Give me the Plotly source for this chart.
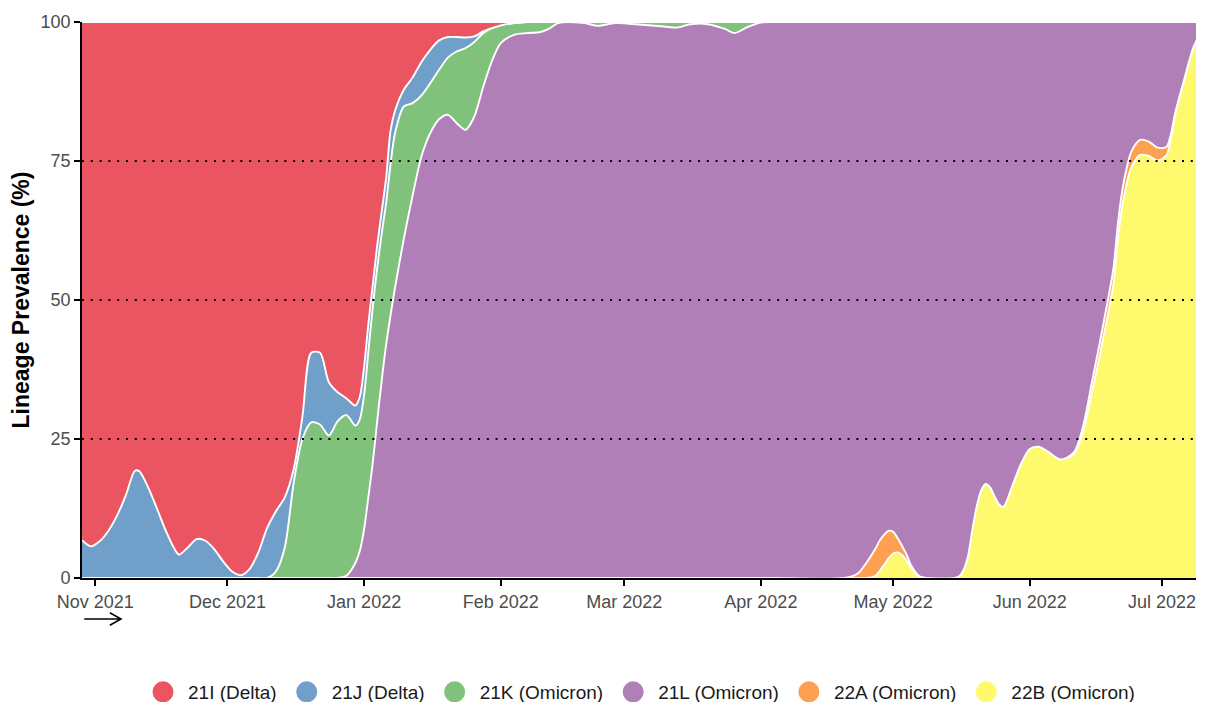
import plotly.graph_objects as go

dates = [
    "2021-10-29", "2021-10-31", "2021-11-02", "2021-11-04", "2021-11-06", "2021-11-08", "2021-11-10", "2021-11-11",
    "2021-11-13", "2021-11-15", "2021-11-17", "2021-11-19", "2021-11-20", "2021-11-22", "2021-11-24", "2021-11-26",
    "2021-11-28", "2021-11-30", "2021-12-02", "2021-12-04", "2021-12-06", "2021-12-08", "2021-12-10", "2021-12-12",
    "2021-12-14", "2021-12-16", "2021-12-18", "2021-12-20", "2021-12-22", "2021-12-24", "2021-12-26", "2021-12-28",
    "2021-12-30", "2021-12-31", "2022-01-01", "2022-01-02", "2022-01-03", "2022-01-04", "2022-01-05", "2022-01-06",
    "2022-01-07", "2022-01-08", "2022-01-10", "2022-01-12", "2022-01-14", "2022-01-16", "2022-01-18", "2022-01-20",
    "2022-01-22", "2022-01-24", "2022-01-26", "2022-01-28", "2022-01-30", "2022-02-01", "2022-02-04", "2022-02-07",
    "2022-02-10", "2022-02-12", "2022-02-14", "2022-02-20", "2022-02-23", "2022-02-27", "2022-03-05", "2022-03-10",
    "2022-03-13", "2022-03-16", "2022-03-20", "2022-03-24", "2022-03-26", "2022-03-29", "2022-04-01", "2022-04-04",
    "2022-04-20", "2022-04-23", "2022-04-25", "2022-04-27", "2022-04-28", "2022-04-29", "2022-04-30", "2022-05-01",
    "2022-05-02", "2022-05-03", "2022-05-04", "2022-05-05", "2022-05-07", "2022-05-09", "2022-05-15", "2022-05-16",
    "2022-05-17", "2022-05-18", "2022-05-19", "2022-05-20", "2022-05-21", "2022-05-22", "2022-05-23", "2022-05-24",
    "2022-05-25", "2022-05-26", "2022-05-28", "2022-05-30", "2022-06-01", "2022-06-03", "2022-06-05", "2022-06-08",
    "2022-06-11", "2022-06-13", "2022-06-15", "2022-06-17", "2022-06-18", "2022-06-19", "2022-06-20", "2022-06-21",
    "2022-06-22", "2022-06-23", "2022-06-24", "2022-06-26", "2022-06-28", "2022-06-30", "2022-07-02", "2022-07-03",
    "2022-07-04", "2022-07-06", "2022-07-08", "2022-07-09",
]

# Lineage prevalence (%) per date
l21I = [
    93.2, 94.3, 93.4, 91.5, 88.7, 85.0, 80.7, 80.8,
    83.7, 87.5, 91.5, 94.8, 95.8, 94.5, 93.0, 93.3,
    94.8, 97.0, 98.8, 99.5, 98.4, 95.4, 91.0, 88.0,
    85.5, 80.5, 71.0, 59.5, 59.5, 64.8, 66.6, 67.7,
    69.0, 67.5, 62.0, 54.0, 47.0, 40.0, 34.0, 28.0,
    19.5, 16.0, 12.2, 10.0, 7.2, 5.0, 3.3, 2.7,
    2.7, 2.8, 2.6, 1.7, 1.1, 0.6, 0.2, 0,
    0, 0, 0, 0, 0, 0, 0, 0,
    0, 0, 0, 0, 0, 0, 0, 0,
    0, 0, 0, 0, 0, 0, 0, 0,
    0, 0, 0, 0, 0, 0, 0, 0,
    0, 0, 0, 0, 0, 0, 0, 0,
    0, 0, 0, 0, 0, 0, 0, 0,
    0, 0, 0, 0, 0, 0, 0, 0,
    0, 0, 0, 0, 0, 0, 0, 0,
    0, 0, 0, 0,
]
l21J = [
    6.8, 5.7, 6.6, 8.5, 11.3, 15.0, 19.3, 19.2,
    16.3, 12.5, 8.5, 5.2, 4.2, 5.5, 7.0, 6.7,
    5.2, 3.0, 1.2, 0.5, 1.6, 4.6, 9.0, 10.8,
    9.0, 2.5, 4.0, 12.5, 12.9, 9.6, 5.2, 3.0,
    3.6, 4.0, 5.0, 5.0, 4.0, 4.0, 4.0, 4.5,
    6.0, 4.0, 3.0, 4.6, 6.0, 6.0, 5.3, 3.7,
    2.6, 1.9, 1.0, 0.3, 0, 0, 0, 0,
    0, 0, 0, 0, 0, 0, 0, 0,
    0, 0, 0, 0, 0, 0, 0, 0,
    0, 0, 0, 0, 0, 0, 0, 0,
    0, 0, 0, 0, 0, 0, 0, 0,
    0, 0, 0, 0, 0, 0, 0, 0,
    0, 0, 0, 0, 0, 0, 0, 0,
    0, 0, 0, 0, 0, 0, 0, 0,
    0, 0, 0, 0, 0, 0, 0, 0,
    0, 0, 0, 0,
]
l21K = [
    0, 0, 0, 0, 0, 0, 0, 0,
    0, 0, 0, 0, 0, 0, 0, 0,
    0, 0, 0, 0, 0, 0, 0, 1.2,
    5.5, 17.0, 25.0, 28.0, 27.6, 25.6, 28.2, 28.9,
    24.7, 23.7, 24.2, 26.2, 28.0, 27.5, 26.4, 25.5,
    27.2, 27.8, 23.8, 16.6, 11.0, 9.0, 8.9, 10.3,
    12.9, 14.7, 13.4, 9.7, 5.9, 3.2, 2.1, 2.0,
    1.8, 1.2, 0.2, 0.2, 0.7, 0.2, 0.5, 0.8,
    1.0, 0.4, 0.4, 1.3, 2.0, 0.9, 0.1, 0,
    0, 0, 0, 0, 0, 0, 0, 0,
    0, 0, 0, 0, 0, 0, 0, 0,
    0, 0, 0, 0, 0, 0, 0, 0,
    0, 0, 0, 0, 0, 0, 0, 0,
    0, 0, 0, 0, 0, 0, 0, 0,
    0, 0, 0, 0, 0, 0, 0, 0,
    0, 0, 0, 0,
]
l21L = [
    0, 0, 0, 0, 0, 0, 0, 0,
    0, 0, 0, 0, 0, 0, 0, 0,
    0, 0, 0, 0, 0, 0, 0, 0,
    0, 0, 0, 0, 0, 0, 0, 0.4,
    2.7, 4.8, 8.8, 14.8, 21.0, 28.5, 35.6, 42.0,
    47.3, 52.2, 61.0, 68.8, 75.8, 80.0, 82.5, 83.3,
    81.8, 80.6, 83.0, 88.3, 93.0, 96.2, 97.7, 98.0,
    98.2, 98.8, 99.8, 99.8, 99.3, 99.8, 99.5, 99.2,
    99.0, 99.6, 99.6, 98.7, 98.0, 99.1, 99.9, 100,
    100, 99.2, 97.2, 94.7, 93.2, 92.2, 91.5, 91.7,
    92.8, 94.2, 95.7, 97.6, 99.7, 100, 100, 99.7,
    98.5, 96.0, 91.2, 87.0, 84.2, 83.1, 83.7, 85.3,
    86.7, 87.2, 83.5, 79.5, 76.8, 76.4, 77.2, 78.7,
    77.4, 73.0, 65.2, 57.2, 53.0, 48.8, 44.2, 36.2,
    30.2, 26.2, 23.4, 21.2, 21.5, 22.6, 22.5, 20.2,
    16.3, 10.4, 4.8, 3.0,
]
l22A = [
    0, 0, 0, 0, 0, 0, 0, 0,
    0, 0, 0, 0, 0, 0, 0, 0,
    0, 0, 0, 0, 0, 0, 0, 0,
    0, 0, 0, 0, 0, 0, 0, 0,
    0, 0, 0, 0, 0, 0, 0, 0,
    0, 0, 0, 0, 0, 0, 0, 0,
    0, 0, 0, 0, 0, 0, 0, 0,
    0, 0, 0, 0, 0, 0, 0, 0,
    0, 0, 0, 0, 0, 0, 0, 0,
    0, 0.8, 2.8, 4.9, 5.5, 5.4, 4.9, 3.9,
    2.6, 1.6, 1.1, 0.5, 0.1, 0, 0, 0,
    0, 0, 0, 0, 0, 0, 0, 0,
    0, 0, 0, 0, 0, 0, 0, 0,
    0.3, 1.0, 1.8, 2.3, 2.5, 2.7, 2.8, 2.8,
    2.8, 2.8, 2.8, 2.7, 2.6, 2.3, 1.5, 0.8,
    0.4, 0.2, 0.2, 0.2,
]
l22B = [
    0, 0, 0, 0, 0, 0, 0, 0,
    0, 0, 0, 0, 0, 0, 0, 0,
    0, 0, 0, 0, 0, 0, 0, 0,
    0, 0, 0, 0, 0, 0, 0, 0,
    0, 0, 0, 0, 0, 0, 0, 0,
    0, 0, 0, 0, 0, 0, 0, 0,
    0, 0, 0, 0, 0, 0, 0, 0,
    0, 0, 0, 0, 0, 0, 0, 0,
    0, 0, 0, 0, 0, 0, 0, 0,
    0, 0, 0, 0.4, 1.3, 2.4, 3.6, 4.4,
    4.6, 4.2, 3.2, 1.9, 0.2, 0, 0, 0.3,
    1.5, 4.0, 8.8, 13.0, 15.8, 16.9, 16.3, 14.7,
    13.3, 12.8, 16.5, 20.5, 23.2, 23.6, 22.8, 21.3,
    22.3, 26.0, 33.0, 40.5, 44.5, 48.5, 53.0, 61.0,
    67.0, 71.0, 73.8, 76.1, 75.9, 75.1, 76.0, 79.0,
    83.3, 89.4, 95.0, 96.8,
]

lineages = ["21I (Delta)", "21J (Delta)", "21K (Omicron)", "21L (Omicron)", "22A (Omicron)", "22B (Omicron)"]
colors = ["#EA5561", "#709FCA", "#80C17C", "#B07FB8", "#FEA052", "#FFF96E"]
values = [l21I, l21J, l21K, l21L, l22A, l22B]

for v in values:
    assert len(v) == len(dates), len(v)

fig = go.Figure()

# stacked areas, bottom first (22B) up to 21I on top
for name, col, vals in reversed(list(zip(lineages, colors, values))):
    fig.add_trace(go.Scatter(
        x=dates, y=vals, name=name, stackgroup="one", mode="lines",
        line=dict(color="white", width=1.9, shape="spline", smoothing=0.8),
        fillcolor=col, showlegend=False, hoverinfo="x+y+name",
    ))

# legend entries with round keys
for name, col in zip(lineages, colors):
    fig.add_trace(go.Scatter(
        x=[None], y=[None], mode="markers", name=name,
        marker=dict(color=col, size=20, symbol="circle", line=dict(color=col, width=5)),
    ))

shapes = []
for yv in [25, 50, 75]:
    shapes.append(dict(type="line", xref="paper", x0=0, x1=1, yref="y", y0=yv, y1=yv,
                       line=dict(color="black", width=2.2, dash="2px,6.8px"), layer="above"))
# arrow under the x axis
shapes.append(dict(type="path", xref="paper", yref="paper",
                   path="M 0.002,-0.0737 L 0.035,-0.0737 M 0.025,-0.0625 L 0.035,-0.0737 L 0.025,-0.085",
                   line=dict(color="black", width=1.6), layer="above"))

# the page body adds an 8px offset, so the figure is sized to fit inside the window
fig.update_layout(
    width=1197, height=694,
    margin=dict(l=74, r=9, t=14, b=124, autoexpand=False),
    paper_bgcolor="white", plot_bgcolor="white",
    font=dict(family="Liberation Sans, Arial, sans-serif", color="#4d4d4d", size=18),
    shapes=shapes,
    showlegend=True,
    legend=dict(orientation="h", x=0.5, xanchor="center", y=-0.205, yanchor="middle",
                font=dict(size=19, color="#1a1a1a"), itemsizing="trace",
                traceorder="normal", itemwidth=40),
    xaxis=dict(type="date", range=["2021-10-29", "2022-07-08 17:00"],
               tick0="2021-11-01", dtick="M1", tickformat="%b %Y",
               ticks="outside", ticklen=6, tickwidth=1.5, tickcolor="black",
               showline=True, linecolor="black", linewidth=1.8, automargin=False,
               showgrid=False, zeroline=False, tickfont=dict(size=18, color="#4d4d4d")),
    yaxis=dict(range=[0, 100], tickvals=[0, 25, 50, 75, 100], automargin=False,
               ticks="outside", ticklen=6, tickwidth=1.5, tickcolor="black",
               showline=True, linecolor="black", linewidth=1.8,
               showgrid=False, zeroline=False, tickfont=dict(size=18, color="#4d4d4d"),
               title=dict(text="<b>Lineage Prevalence (%)</b>", font=dict(size=23, color="black"), standoff=4)),
)

fig.write_html("out.html")
